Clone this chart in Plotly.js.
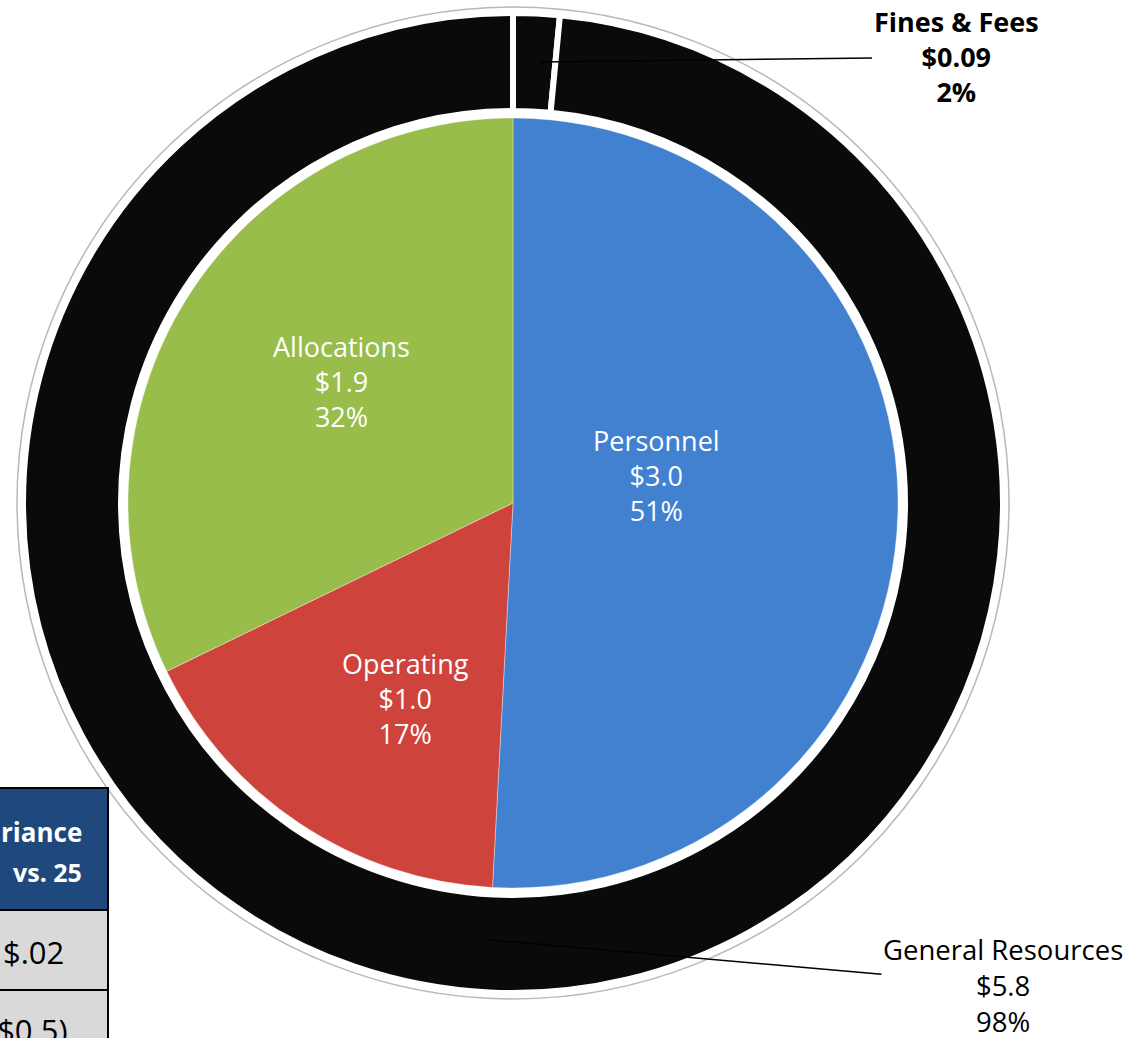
<!DOCTYPE html>
<html>
<head>
<meta charset="utf-8">
<script src="https://cdn.plot.ly/plotly-3.0.1.min.js"></script>
<style>html,body{margin:0;padding:0;background:#fff;overflow:hidden}#chart{width:1130px;height:1038px}</style>
</head>
<body>
<div id="chart"></div>
<script>
// Inner pie: expenditures ($M)
const innerLabels = ["Personnel", "Operating", "Allocations"];
const innerValues = [3.0, 1.0, 1.9];
const innerValueText = ["$3.0", "$1.0", "$1.9"];
const innerPctText = ["51%", "17%", "32%"];
const innerColors = ["#4281d0", "#cf433d", "#98bd4a"];

// Outer ring: resources ($M)
const outerLabels = ["Fines & Fees", "General Resources"];
const outerValues = [0.09, 5.8];
const outerValueText = ["$0.09", "$5.8"];
const outerPctText = ["2%", "98%"];

// Partial table (left edge, clipped in the source)
const tableHeader = ["riance", "vs. 25"];
const tableRows = ["$.02", "($0.5)"];

const W = 1130, H = 1038;
const px = v => v / W;
const py = v => 1 - v / H;

const FONT = "Open Sans, Liberation Sans, sans-serif";

const outer = {
  type: "pie",
  labels: outerLabels,
  values: outerValues,
  sort: false,
  direction: "clockwise",
  rotation: 0,
  hole: 0.80,
  textinfo: "none",
  hoverinfo: "label+value",
  marker: { colors: ["#0a0a0a", "#0a0a0a"], line: { color: "#ffffff", width: 6 } },
  domain: { x: [px(23), px(1003)], y: [py(993), py(13)] },
  showlegend: false
};

const inner = {
  type: "pie",
  labels: innerLabels,
  values: innerValues,
  sort: false,
  direction: "clockwise",
  rotation: 0,
  textinfo: "none",
  hoverinfo: "label+value+percent",
  marker: { colors: innerColors, line: { color: "rgba(255,255,255,0.35)", width: 1 } },
  domain: { x: [px(128), px(898)], y: [py(888), py(118)] },
  showlegend: false
};

// label anchor points (pixel centres) for inner slice labels
const innerLabelPos = [[656, 476], [405, 698], [341, 381]];

const annotations = [];
innerLabels.forEach((l, i) => {
  annotations.push({
    xref: "paper", yref: "paper",
    x: px(innerLabelPos[i][0]), y: py(innerLabelPos[i][1]),
    xanchor: "center", yanchor: "middle", showarrow: false,
    text: l + "<br>" + innerValueText[i] + "<br>" + innerPctText[i],
    font: { family: FONT, size: 27, color: "#ffffff" }, align: "center"
  });
});

annotations.push(
  {
    xref: "paper", yref: "paper",
    x: px(540), y: py(62),
    ax: 416, ay: -5,
    showarrow: true, arrowhead: 0, arrowwidth: 1.5, arrowcolor: "#000",
    text: "<b>" + outerLabels[0] + "<br>" + outerValueText[0] + "<br>" + outerPctText[0] + "</b>",
    font: { family: FONT, size: 27, color: "#000" },
    align: "center"
  },
  {
    xref: "paper", yref: "paper",
    x: px(490), y: py(940),
    ax: 513, ay: 45,
    showarrow: true, arrowhead: 0, arrowwidth: 1.5, arrowcolor: "#000",
    text: outerLabels[1] + "<br>" + outerValueText[1] + "<br>" + outerPctText[1],
    font: { family: FONT, size: 27.5, color: "#000" },
    align: "center"
  },
  // table texts
  { xref: "paper", yref: "paper", x: px(84), y: py(832), xanchor: "right", yanchor: "middle", showarrow: false,
    text: "<b>" + tableHeader[0] + "</b>", font: { family: FONT, size: 26, color: "#fff" } },
  { xref: "paper", yref: "paper", x: px(84), y: py(872), xanchor: "right", yanchor: "middle", showarrow: false,
    text: "<b>" + tableHeader[1] + "</b>", font: { family: FONT, size: 25, color: "#fff" } },
  { xref: "paper", yref: "paper", x: px(1), y: py(952), xanchor: "left", yanchor: "middle", showarrow: false,
    text: tableRows[0], font: { family: FONT, size: 31, color: "#000" } },
  { xref: "paper", yref: "paper", x: px(70), y: py(1030), xanchor: "right", yanchor: "middle", showarrow: false,
    text: tableRows[1], font: { family: FONT, size: 31, color: "#000" } }
);

const shapes = [
  { type: "circle", xref: "paper", yref: "paper", layer: "below",
    x0: px(513 - 496), x1: px(513 + 496), y0: py(503 + 496), y1: py(503 - 496),
    line: { color: "#b8b8b8", width: 1.5 }, fillcolor: "#ffffff" },
  { type: "rect", xref: "paper", yref: "paper", layer: "above",
    x0: px(-5), x1: px(108), y0: py(910), y1: py(788),
    fillcolor: "#1f497d", line: { color: "#000", width: 2 } },
  { type: "rect", xref: "paper", yref: "paper", layer: "above",
    x0: px(-5), x1: px(108), y0: py(990), y1: py(910),
    fillcolor: "#d9d9d9", line: { color: "#000", width: 2 } },
  { type: "rect", xref: "paper", yref: "paper", layer: "above",
    x0: px(-5), x1: px(108), y0: py(1060), y1: py(990),
    fillcolor: "#d9d9d9", line: { color: "#000", width: 2 } }
];

const layout = {
  width: W, height: H,
  margin: { l: 0, r: 0, t: 0, b: 0 },
  paper_bgcolor: "#ffffff",
  font: { family: FONT },
  annotations: annotations,
  shapes: shapes,
  showlegend: false
};

Plotly.newPlot("chart", [outer, inner], layout, { displayModeBar: false, staticPlot: true });
</script>
</body>
</html>
